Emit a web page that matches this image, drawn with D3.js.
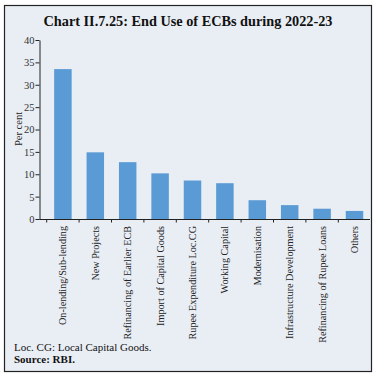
<!DOCTYPE html>
<html>
  <head>
    <title>End Use of ECBs during 2022-23</title>
  </head>
  <body>
    <style>
      body,
      html {
        margin: 0;
        padding: 0;
        background: #fff;
      }
      svg text {
        font-family: "Liberation Serif", "DejaVu Serif", serif;
      }
    </style>

    <svg id="svg" width="377" height="376"></svg>

    <script src="https://cdn.jsdelivr.net/npm/d3@7"></script>
    <script>
      const categories = [
        'On-lending/Sub-lending', 'New Projects', 'Refinancing of Earlier ECB',
        'Import of Capital Goods', 'Rupee Expenditure Loc.CG', 'Working Capital',
        'Modernisation', 'Infrastructure Development', 'Refinancing of Rupee Loans',
        'Others'
      ];
      const shares = [33.5, 14.9, 12.7, 10.2, 8.6, 8.0, 4.2, 3.1, 2.3, 1.8];
      const yTicks = [0, 5, 10, 15, 20, 25, 30, 35, 40];

      const svg = d3.select('#svg');

      // panel frame
      svg.append('rect')
        .attr('x', 4.5)
        .attr('y', 5.5)
        .attr('width', 367)
        .attr('height', 366)
        .attr('fill', '#e9eef5')
        .attr('stroke', '#222')
        .attr('stroke-width', 1.2);

      const title = svg.append('text')
        .attr('x', 188)
        .attr('y', 26)
        .attr('text-anchor', 'middle')
        .attr('font-size', 14)
        .attr('font-weight', 'bold')
        .attr('fill', '#111')
        .text('Chart II.7.25: End Use of ECBs during 2022-23');
      // stretch to the printed width
      title.attr('textLength', 289).attr('lengthAdjust', 'spacingAndGlyphs');

      const xscale = d3.scaleBand()
        .domain(categories)
        .range([46.7, 370.7])
        .paddingInner(0.46)
        .paddingOuter(0.23);

      const yscale = d3.scaleLinear()
        .domain([0, 40])
        .range([219, 40]);

      svg.append('g')
        .selectAll('rect')
        .data(shares)
        .join('rect')
        .attr('x', (d, i) => xscale(categories[i]))
        .attr('y', d => yscale(d))
        .attr('width', xscale.bandwidth())
        .attr('height', d => yscale(0) - yscale(d))
        .attr('fill', '#5b9bd5');

      const leftAxis = d3.axisLeft(yscale)
        .tickValues(yTicks)
        .tickSize(4)
        .tickSizeOuter(0);

      const yAxisG = svg.append('g')
        .attr('transform', 'translate(39.5,0)')
        .call(leftAxis);
      yAxisG.select('.domain').attr('stroke', '#222');
      yAxisG.selectAll('.tick line').attr('stroke', '#222');
      yAxisG.selectAll('.tick text')
        .attr('font-family', '"Liberation Serif", serif')
        .attr('font-size', 10.5)
        .attr('fill', '#333')
        .attr('x', -5);

      // x axis: ticks sit between the bars
      const xAxisG = svg.append('g')
        .attr('transform', 'translate(0,219.5)');
      xAxisG.append('line')
        .attr('x1', 39.5)
        .attr('x2', 370)
        .attr('stroke', '#222');
      const bounds = categories.map(c => xscale(c) - xscale.step() * xscale.paddingInner() / 2);
      xAxisG.selectAll('.xt')
        .data(bounds)
        .join('line')
        .attr('class', 'xt')
        .attr('x1', d => d)
        .attr('x2', d => d)
        .attr('y1', 0)
        .attr('y2', 3)
        .attr('stroke', '#222');

      svg.append('g')
        .selectAll('text')
        .data(categories)
        .join('text')
        .attr('transform', d => `translate(${xscale(d) + xscale.bandwidth() / 2 + 3.5},226) rotate(-90)`)
        .attr('text-anchor', 'end')
        .attr('font-size', 10.2)
        .attr('fill', '#222')
        .text(d => d);

      svg.append('text')
        .attr('transform', 'translate(22,129) rotate(-90)')
        .attr('text-anchor', 'middle')
        .attr('font-size', 10.5)
        .attr('fill', '#222')
        .text('Per cent');

      svg.append('text')
        .attr('x', 14)
        .attr('y', 351)
        .attr('font-size', 11)
        .attr('fill', '#111')
        .text('Loc. CG: Local Capital Goods.');

      svg.append('text')
        .attr('x', 14)
        .attr('y', 363)
        .attr('font-size', 11)
        .attr('font-weight', 'bold')
        .attr('fill', '#111')
        .text('Source: RBI.');
    </script>
  </body>
</html>
